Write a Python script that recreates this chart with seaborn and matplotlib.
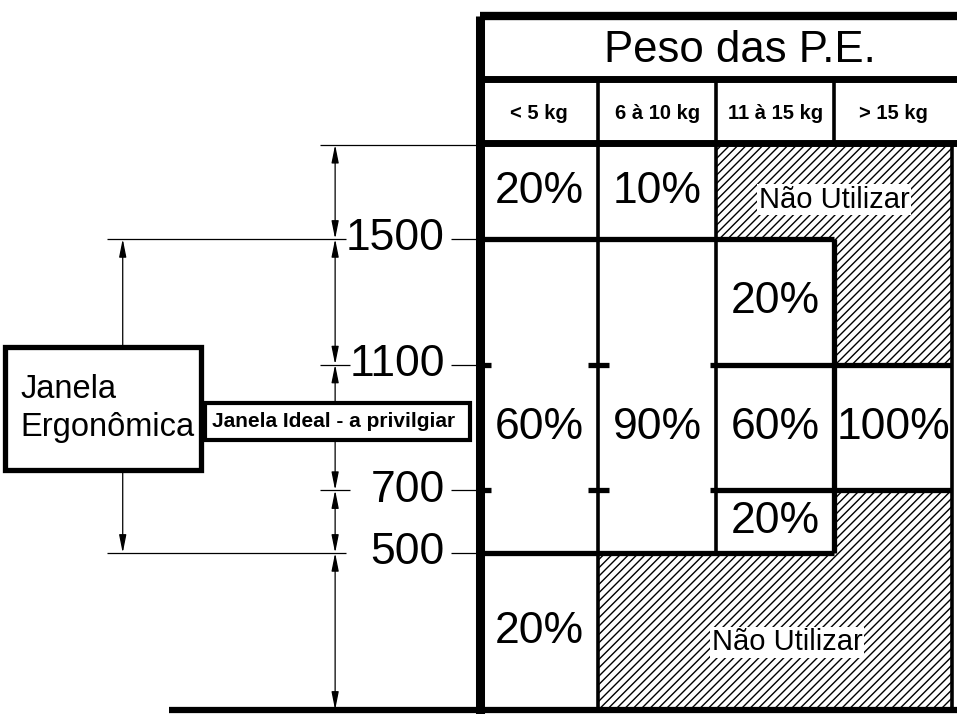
import matplotlib
matplotlib.use("Agg")
import matplotlib.pyplot as plt
import seaborn as sns
from matplotlib.patches import Rectangle

# Weight classes (columns) and height levels in mm (rows)
weights = ['< 5 kg', '6 à 10 kg', '11 à 15 kg', '> 15 kg']
levels = [0, 500, 700, 1100, 1500, 1800]
level_marks = [1500, 1100, 700, 500]

# Percentage cells: column, lower / upper height, value
cell_col = [0, 1, 0, 1, 2, 2, 2, 3, 0]
cell_lo = [1500, 1500, 500, 500, 1100, 700, 500, 700, 0]
cell_hi = [1800, 1800, 1500, 1500, 1500, 1100, 700, 1100, 500]
cell_pct = [20, 10, 60, 90, 20, 60, 20, 100, 20]

# "Não Utilizar" zones (hatched)
nu_c0 = [2, 3, 1, 3]
nu_c1 = [4, 4, 4, 4]
nu_lo = [1500, 1100, 0, 500]
nu_hi = [1800, 1500, 500, 700]

# Windows (mm)
ergo_window = [500, 1500]
ideal_window = [700, 1100]

sns.set_theme(style='white')
plt.rcParams['font.family'] = ['Liberation Sans', 'DejaVu Sans']
plt.rcParams['text.color'] = 'black'
plt.rcParams['hatch.linewidth'] = 1.0

fig = plt.figure(figsize=(9.57, 7.14), dpi=100)
ax = fig.add_axes([0, 0, 1, 1])
ax.set_xlim(-4.07, 4.04)
ax.set_ylim(-13, 2261)
ax.axis('off')

thick, thin, dim = 3.8, 2.6, 0.9
ncol = len(weights)
top = levels[-1]

# hatched zones
for c0, c1, lo, hi in zip(nu_c0, nu_c1, nu_lo, nu_hi):
    ax.add_patch(Rectangle((c0, lo), c1 - c0, hi - lo, facecolor='white',
                           edgecolor='black', hatch='////', lw=0, zorder=1))
ax.text(3.0, 1625, 'Não Utilizar', fontsize=21, ha='center', va='center',
        bbox=dict(facecolor='white', edgecolor='none', pad=1), zorder=3)
ax.text(2.6, 215, 'Não Utilizar', fontsize=21, ha='center', va='center',
        bbox=dict(facecolor='white', edgecolor='none', pad=1), zorder=3)

# percentage labels
for c, lo, hi, v in zip(cell_col, cell_lo, cell_hi, cell_pct):
    if lo <= ideal_window[0] and hi >= ideal_window[1]:
        y = sum(ideal_window) / 2
    else:
        y = (lo + hi) / 2
    ax.text(c + 0.5, y, f'{v}%', fontsize=32, ha='center', va='center', zorder=3)

# grid lines
ax.hlines(ergo_window, 0, 3, lw=thick, color='black', zorder=4)
ax.vlines(3, ergo_window[0], ergo_window[1], lw=thick, color='black', zorder=4)
ax.hlines(ideal_window, 1.95, 4, lw=thick, color='black', zorder=4)
ax.vlines(1, 0, top, lw=thin, color='black', zorder=4)
ax.vlines(2, ergo_window[0], top, lw=thin, color='black', zorder=4)
ax.vlines(ncol, 0, top, lw=thin, color='black', zorder=4)
ax.hlines(ideal_window, 0, 0.09, lw=thick, color='black', zorder=4)
ax.hlines(ideal_window, 0.91, 1.09, lw=thick, color='black', zorder=4)

# header
ax.vlines(0, -13, 2210, lw=6.5, color='black', zorder=5)
ax.hlines(2210, 0, 4.04, lw=6, color='black', zorder=5)
ax.hlines(2010, 0, 4.04, lw=5, color='black', zorder=5)
ax.hlines(1805, 0, 4.04, lw=5, color='black', zorder=5)
ax.vlines([1, 2, 3], 1805, 2010, lw=thin, color='black', zorder=5)
ax.text(2.2, 2099, 'Peso das P.E.', fontsize=31.5, ha='center', va='center')
for i, w in enumerate(weights):
    ax.text(i + 0.5, 1901, w, fontsize=14.5, fontweight='bold', ha='center', va='center')

# left dimensioning
xd = -1.23
ax.hlines(top, -1.36, 0, lw=dim, color='black')
ax.hlines(ergo_window, -3.16, -1.14, lw=dim, color='black')
ax.hlines(ideal_window, -1.36, -1.1, lw=dim, color='black')
ax.hlines(level_marks, -0.25, 0, lw=dim, color='black')
ax.hlines(0, -2.64, 4.04, lw=4.5, color='black', zorder=5)
for lo, hi in zip(levels[:-1], levels[1:]):
    ax.annotate('', xy=(xd, hi), xytext=(xd, lo),
                arrowprops=dict(arrowstyle='<|-|>,head_length=0.9,head_width=0.18',
                                color='black', lw=dim, shrinkA=0, shrinkB=0))
for m in level_marks:
    ax.text(-0.30, m, str(m), fontsize=32, ha='right', va='center')

ax.annotate('', xy=(-3.03, ergo_window[1]), xytext=(-3.03, ergo_window[0]),
            arrowprops=dict(arrowstyle='<|-|>,head_length=0.9,head_width=0.18',
                            color='black', lw=dim, shrinkA=0, shrinkB=0))

# window boxes
ax.add_patch(Rectangle((-4.03, 764), 1.66, 392, facecolor='white',
                       edgecolor='black', lw=3.8, zorder=6))
ax.text(-3.90, 960, 'Janela\nErgonômica', fontsize=23.5, ha='left', va='center',
        linespacing=1.3, zorder=7)
ax.add_patch(Rectangle((-2.33, 860), 2.245, 118, facecolor='white',
                       edgecolor='black', lw=3, zorder=6))
ax.text(-2.27, 919, 'Janela Ideal - a privilgiar', fontsize=15, fontweight='bold',
        ha='left', va='center', zorder=7)

fig.savefig('out.png', dpi=100)
